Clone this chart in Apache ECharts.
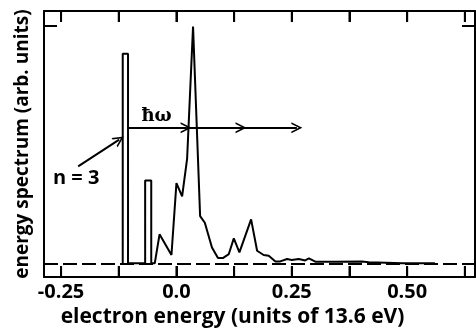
<!DOCTYPE html>
<html lang="en" style="height: 100%">
<head>
<meta charset="utf-8">
<title>Electron energy spectrum</title>
</head>
<body style="height: 100%; margin: 0; background: #fff">
<div id="container" style="height: 100%"></div>
<script type="text/javascript" src="https://cdn.jsdelivr.net/npm/echarts/dist/echarts.min.js"></script>
<script type="text/javascript">
var dom = document.getElementById('container');
var myChart = echarts.init(dom);
var option;

// bound-state bars (outlined rectangles)
var barLeft = [-0.1164, -0.0678];
var barRight = [-0.1049, -0.0546];
var barHeight = [0.883, 0.349];

// continuum spectrum curve
var curveX = [-0.047, -0.0366, -0.0108, 0.0, 0.0123, 0.0231, 0.036, 0.0513, 0.0615, 0.077, 0.090, 0.1005,
  0.1135, 0.1243, 0.1365, 0.1618, 0.1748, 0.189, 0.2, 0.2145, 0.225, 0.2397, 0.25, 0.265, 0.279, 0.287,
  0.301, 0.345, 0.402, 0.417, 0.49, 0.56];
var curveY = [0, 0.122, 0.035, 0.3375, 0.282, 0.44, 0.997, 0.199, 0.171, 0.067, 0.022, 0.022,
  0.039, 0.105, 0.046, 0.185, 0.053, 0.035, 0.032, 0.008, 0.008, 0.018, 0.014, 0.018, 0.012, 0.021,
  0.007, 0.007, 0.008, 0.005, 0, 0];

var xTicks = [-0.25, -0.125, 0, 0.125, 0.25, 0.375, 0.5, 0.625];
var xLabelValues = [-0.25, 0, 0.25, 0.5];
var xLabelText = ['-0.25', '0.0', '0.25', '0.50'];
var yTicks = [0, 1];

// photon-absorption arrow steps (hbar omega)
var arrowY = 0.571;
var arrowStops = [-0.105, 0.021, 0.140, 0.261];
// n = 3 pointer
var pointerFrom = [-0.213, 0.408];
var pointerTo = [-0.124, 0.521];

var xMin = -0.287, xMax = 0.647;
var yMin = -0.058, yMax = 1.0625;

var points = [];
for (var i = 0; i < barLeft.length; i++) {
  points.push([barLeft[i], 0], [barLeft[i], barHeight[i]], [barRight[i], barHeight[i]], [barRight[i], 0]);
}
for (var j = 0; j < curveX.length; j++) {
  points.push([curveX[j], curveY[j]]);
}

var chevron = 'path://M0,10 L5,0 L10,10 L8.4,10 L5,3.2 L1.6,10 Z';
var arrowSegs = [];
for (var k = 0; k < arrowStops.length - 1; k++) {
  arrowSegs.push([{ coord: [arrowStops[k], arrowY] }, { coord: [arrowStops[k + 1], arrowY] }]);
}
arrowSegs.push([{ coord: pointerFrom }, { coord: pointerTo }]);

var font = 'Open Sans';
var axisStyle = { show: true, onZero: false, lineStyle: { color: '#000', width: 2 } };
var tickStyle = { color: '#000', width: 2 };

option = {
  animation: false,
  grid: { left: 44, right: 1, top: 11, bottom: 53 },
  xAxis: [{
    type: 'value', min: xMin, max: xMax, position: 'bottom',
    name: 'electron energy (units of 13.6 eV)', nameLocation: 'middle', nameGap: 21,
    nameTextStyle: { color: '#000', fontFamily: font, fontSize: 21, fontWeight: 'bold', padding: [0, 54, 0, 0] },
    axisLine: axisStyle,
    axisTick: { show: true, inside: true, length: 11, customValues: xTicks, lineStyle: tickStyle },
    axisLabel: {
      customValues: xLabelValues, margin: 5, color: '#000', fontFamily: font, fontSize: 20, fontWeight: 'bold',
      formatter: function (v) { return xLabelText[xLabelValues.indexOf(v)]; }
    },
    splitLine: { show: false }
  }, {
    type: 'value', min: xMin, max: xMax, position: 'top',
    axisLine: axisStyle,
    axisTick: { show: true, inside: true, length: 11, customValues: xTicks, lineStyle: tickStyle },
    axisLabel: { show: false },
    splitLine: { show: false }
  }],
  yAxis: [{
    type: 'value', min: yMin, max: yMax, position: 'left',
    name: 'energy spectrum (arb. units)', nameLocation: 'middle', nameGap: 12,
    nameTextStyle: { color: '#000', fontFamily: font, fontSize: 19, fontWeight: 'bold' },
    axisLine: axisStyle,
    axisTick: { show: true, inside: true, length: 13, customValues: yTicks, lineStyle: tickStyle },
    axisLabel: { show: false },
    splitLine: { show: false }
  }, {
    type: 'value', min: yMin, max: yMax, position: 'right',
    axisLine: axisStyle,
    axisTick: { show: true, inside: true, length: 13, customValues: yTicks, lineStyle: tickStyle },
    axisLabel: { show: false },
    splitLine: { show: false }
  }],
  series: [{
    type: 'line',
    data: points,
    showSymbol: false,
    symbol: 'none',
    lineStyle: { color: '#000', width: 2 },
    markLine: {
      silent: true,
      symbol: 'none',
      label: { show: false },
      lineStyle: { color: '#000', width: 2, type: [14, 5] },
      data: [{ yAxis: 0 }]
    },
    markPoint: {
      silent: true,
      symbolSize: 0,
      label: { show: true, position: 'inside', color: '#000', formatter: '{b}' },
      data: [
        { name: 'n = 3', coord: [-0.2173, 0.358], label: { fontFamily: font, fontSize: 20, fontWeight: 'bold' } },
        { name: 'ħω', coord: [-0.043, 0.62], label: { fontFamily: 'DejaVu Serif', fontSize: 18, fontWeight: 'bold' } }
      ]
    }
  }, {
    type: 'line',
    data: [],
    markLine: {
      silent: true,
      symbol: ['none', chevron],
      symbolSize: 11,
      label: { show: false },
      itemStyle: { color: '#000' },
      lineStyle: { color: '#000', width: 2, type: 'solid' },
      data: arrowSegs
    }
  }]
};

myChart.setOption(option);

// x ticks on the bottom and top frame, placed through the chart's own scale
var tickGraphics = [];
xTicks.forEach(function (v) {
  var b = myChart.convertToPixel({ gridIndex: 0 }, [v, yMin]);
  var t = myChart.convertToPixel({ gridIndex: 0 }, [v, yMax]);
  tickGraphics.push(
    { type: 'line', z: 100, silent: true, shape: { x1: b[0], y1: b[1], x2: b[0], y2: b[1] - 11 }, style: { stroke: '#000', lineWidth: 2 } },
    { type: 'line', z: 100, silent: true, shape: { x1: t[0], y1: t[1], x2: t[0], y2: t[1] + 11 }, style: { stroke: '#000', lineWidth: 2 } }
  );
});
myChart.setOption({ graphic: tickGraphics });

window.addEventListener('resize', myChart.resize);
</script>
</body>
</html>
